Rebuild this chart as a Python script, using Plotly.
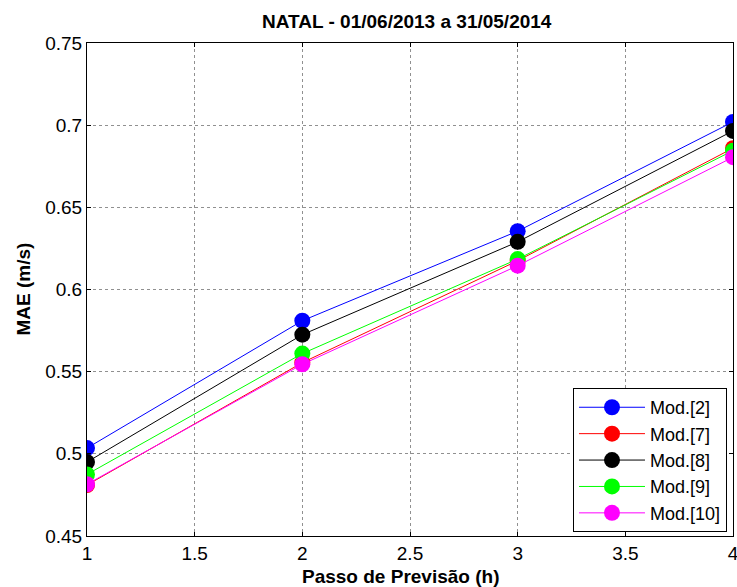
import plotly.graph_objects as go

steps = [1, 2, 3, 4]
names = ["Mod.[2]", "Mod.[7]", "Mod.[8]", "Mod.[9]", "Mod.[10]"]
mod2 = [0.5035, 0.5810, 0.6355, 0.7020]
mod7 = [0.4810, 0.5555, 0.6175, 0.6860]
mod8 = [0.4950, 0.5725, 0.6290, 0.6965]
mod9 = [0.4875, 0.5610, 0.6185, 0.6845]
mod10 = [0.4815, 0.5545, 0.6145, 0.6805]
series = [mod2, mod7, mod8, mod9, mod10]
colors = ["#0000ff", "#ff0000", "#000000", "#00ff00", "#ff00ff"]

xticks = [1, 1.5, 2, 2.5, 3, 3.5, 4]
yticks = [0.45, 0.5, 0.55, 0.6, 0.65, 0.7, 0.75]

FONT = "Liberation Sans, Arial"
FS = 19

fig = go.Figure()
for n, v, c in zip(names, series, colors):
    fig.add_trace(go.Scatter(
        x=steps, y=v, name=n, mode="lines+markers",
        line=dict(color=c, width=1),
        marker=dict(color=c, size=16),
        legendgroup=n,
    ))

axis_common = dict(
    showline=True, linecolor="black", linewidth=1, mirror="ticks",
    ticks="inside", ticklen=4, tickcolor="black",
    showgrid=True, gridcolor="#909090", griddash="dot", gridwidth=1,
    zeroline=False, automargin=False, ticklabeloverflow="allow",
    tickfont=dict(family=FONT, size=FS, color="black"),
)

fig.update_layout(
    width=737, height=587,
    paper_bgcolor="white", plot_bgcolor="white",
    margin=dict(l=87, r=4, t=43, b=51),
    xaxis=dict(range=[1, 4], tickvals=xticks, ticktext=[str(t) for t in xticks], **axis_common),
    yaxis=dict(range=[0.45, 0.75], tickvals=yticks, ticktext=[str(t) for t in yticks], **axis_common),
    legend=dict(x=0.9907, y=0.008, xanchor="right", yanchor="bottom",
                bgcolor="white", bordercolor="black", borderwidth=1,
                font=dict(family=FONT, size=18, color="black"),
                tracegroupgap=0, itemwidth=66),
    showlegend=True,
    annotations=[
        dict(text="<b>NATAL - 01/06/2013 a 31/05/2014</b>", xref="paper", yref="paper",
             x=0.495, y=1.044, xanchor="center", yanchor="middle", showarrow=False,
             font=dict(family=FONT, size=FS, color="black")),
        dict(text="<b>Passo de Previsão (h)</b>", xref="paper", yref="paper",
             x=0.485, y=-0.083, xanchor="center", yanchor="middle", showarrow=False,
             font=dict(family=FONT, size=FS, color="black")),
        dict(text="<b>MAE (m/s)</b>", xref="paper", yref="paper", textangle=-90,
             x=-0.099, y=0.5, xanchor="center", yanchor="middle", showarrow=False,
             font=dict(family=FONT, size=FS, color="black")),
    ],
)

fig.write_html("out.html", config={"displayModeBar": False},
               post_script="document.body.style.margin='0';document.body.style.padding='0';")
